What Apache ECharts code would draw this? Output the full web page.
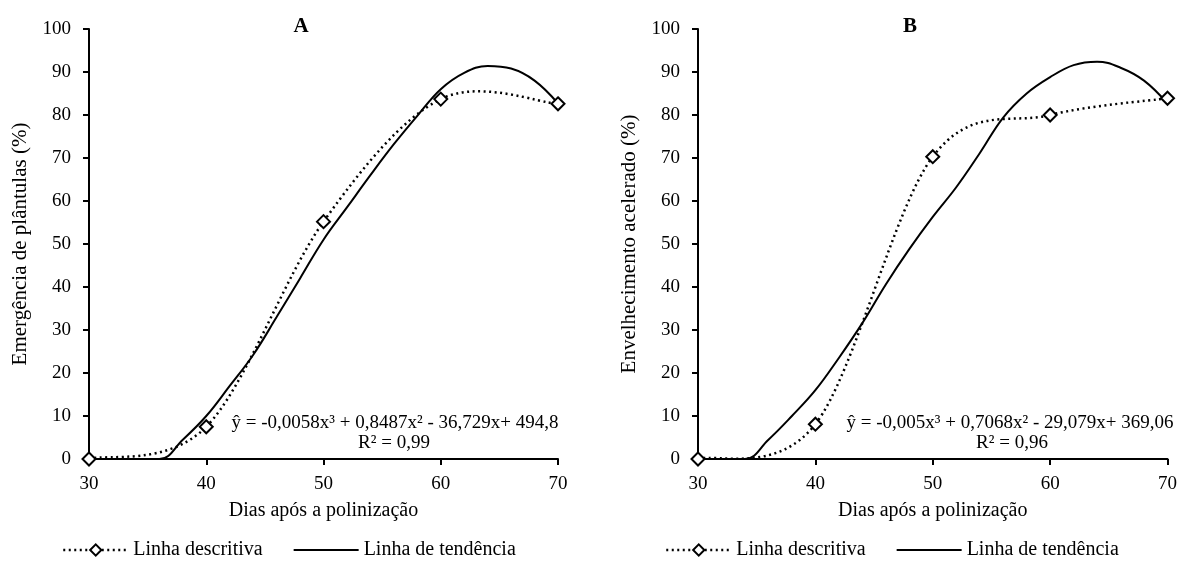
<!DOCTYPE html>
<html>
<head>
<meta charset="utf-8">
<script src="https://cdn.jsdelivr.net/npm/echarts@6/dist/echarts.min.js"></script>
<style>
html,body{margin:0;padding:0;background:#fff;}
#chart{width:1180px;height:585px;}
</style>
</head>
<body>
<div id="chart"></div>
<script>
// ---- data ----
const days = [30, 40, 50, 60, 70];
const emergenciaA = [0, 7.5, 55.2, 83.7, 82.6];
const envelhecimentoB = [0, 8.1, 70.3, 80.0, 83.9];

const trendDaysA = [30, 36, 38, 40, 42, 44, 46, 48, 50, 52, 54, 56, 58, 60, 62, 64, 66, 68, 70];
const trendA     = [0, 0, 4.5, 10, 17, 24.2, 33, 42, 51, 58.5, 66, 73.2, 79.8, 86, 89.8, 91.4, 90.8, 88, 82.7];

const trendDaysB = [30, 34, 36, 38, 40, 42, 44, 46, 48, 50, 52, 54, 56, 58, 60, 62, 64, 66, 68, 70];
const trendB     = [0, 0, 4.5, 10, 16, 23.5, 31.6, 40.6, 48.8, 56.3, 63.2, 71.1, 79.4, 85, 88.8, 91.6, 92.4, 91, 88, 82.7];

const xTicks = { min: 30, max: 70, interval: 10 };
const yTicks = { min: 0, max: 100, interval: 10 };

const labels = {
  titleA: 'A', titleB: 'B',
  yNameA: 'Emergência de plântulas (%)',
  yNameB: 'Envelhecimento acelerado (%)',
  xName: 'Dias após a polinização',
  desc: 'Linha descritiva',
  trend: 'Linha de tendência',
  eqA: 'ŷ = -0,0058x³ + 0,8487x² - 36,729x+ 494,8',
  r2A: 'R² = 0,99',
  eqB: 'ŷ = -0,005x³ + 0,7068x² - 29,079x+ 369,06',
  r2B: 'R² = 0,96'
};

// ---- chart ----
const FONT = "'Liberation Serif', 'Times New Roman', serif";
const zip = (xs, ys) => xs.map((x, i) => [x, ys[i]]);
const DOT = [2, 3.5];

function xAxisCfg(gi) {
  return {
    gridIndex: gi, type: 'value', min: xTicks.min, max: xTicks.max, interval: xTicks.interval,
    name: labels.xName, nameLocation: 'middle', nameGap: 42,
    nameTextStyle: { fontFamily: FONT, fontSize: 20, color: '#000' },
    axisLine: { onZero: false, lineStyle: { color: '#000', width: 2 } },
    axisTick: { show: true, length: 6, lineStyle: { color: '#000', width: 2 } },
    axisLabel: { fontFamily: FONT, fontSize: 19, color: '#000', margin: 16 },
    splitLine: { show: false }
  };
}
function yAxisCfg(gi, name) {
  return {
    gridIndex: gi, type: 'value', min: yTicks.min, max: yTicks.max, interval: yTicks.interval,
    name: name, nameLocation: 'middle', nameGap: 58, nameRotate: 90,
    nameTextStyle: { fontFamily: FONT, fontSize: 21, color: '#000' },
    axisLine: { onZero: false, lineStyle: { color: '#000', width: 2 } },
    axisTick: { show: true, length: 6, lineStyle: { color: '#000', width: 2 } },
    axisLabel: { fontFamily: FONT, fontSize: 19, color: '#000', margin: 18 },
    splitLine: { show: false }
  };
}
// Smooth dotted curve (Catmull-Rom style bezier through the data points, via the axis scales)
function descCurve(gi, ys) {
  const pts = zip(days, ys);
  return {
    name: 'curva', type: 'custom', xAxisIndex: gi, yAxisIndex: gi,
    data: pts, clip: false, silent: true, z: 2,
    renderItem: function (params, api) {
      const i = params.dataIndex;
      const n = pts.length;
      if (i >= n - 1) return null;
      const c = k => api.coord(pts[Math.max(0, Math.min(n - 1, k))]);
      const p0 = c(i - 1), p1 = c(i), p2 = c(i + 1), p3 = c(i + 2);
      return {
        type: 'bezierCurve',
        shape: {
          x1: p1[0], y1: p1[1],
          cpx1: p1[0] + (p2[0] - p0[0]) / 6, cpy1: p1[1] + (p2[1] - p0[1]) / 6,
          cpx2: p2[0] - (p3[0] - p1[0]) / 6, cpy2: p2[1] - (p3[1] - p1[1]) / 6,
          x2: p2[0], y2: p2[1]
        },
        style: { stroke: '#000', lineWidth: 2.5, lineDash: DOT, fill: null }
      };
    }
  };
}
function descSeries(gi, ys) {
  return {
    name: labels.desc, type: 'line', xAxisIndex: gi, yAxisIndex: gi,
    data: zip(days, ys), clip: false,
    symbol: 'diamond', symbolSize: 13,
    itemStyle: { color: '#fff', borderColor: '#000', borderWidth: 2 },
    lineStyle: { color: '#000', width: 2.5, type: DOT, opacity: 0 },
    z: 3
  };
}
function trendSeries(gi, xs, ys) {
  return {
    name: labels.trend, type: 'line', xAxisIndex: gi, yAxisIndex: gi,
    data: zip(xs, ys), smooth: 0.4, symbol: 'line', showSymbol: false, symbolSize: 1,
    itemStyle: { color: '#000' },
    lineStyle: { color: '#000', width: 2, type: 'solid' },
    z: 2
  };
}
function legendCfg(left) {
  return {
    left: left, top: 535, itemWidth: 65, itemHeight: 14, itemGap: 30,
    data: [
      { name: labels.desc, lineStyle: { color: '#000', width: 2.5, type: DOT, opacity: 1 } },
      { name: labels.trend }
    ],
    textStyle: { fontFamily: FONT, fontSize: 20, color: '#000' },
    selectedMode: false
  };
}
function textEl(x, y, t, bold) {
  return {
    type: 'text', x: x, y: y,
    style: { text: t, fontFamily: FONT, fontSize: bold ? 21 : 19, fontWeight: bold ? 'bold' : 'normal',
             fill: '#000', textAlign: 'center', textVerticalAlign: 'middle' }
  };
}

const chart = echarts.init(document.getElementById('chart'), null, { renderer: 'canvas' });
chart.setOption({
  backgroundColor: '#fff',
  animation: false,
  grid: [
    { left: 89, top: 29, width: 469, height: 430 },
    { left: 698, top: 29, width: 470, height: 430 }
  ],
  xAxis: [xAxisCfg(0), xAxisCfg(1)],
  yAxis: [yAxisCfg(0, labels.yNameA), yAxisCfg(1, labels.yNameB)],
  legend: [legendCfg(57), legendCfg(660)],
  series: [
    trendSeries(0, trendDaysA, trendA),
    descCurve(0, emergenciaA),
    descSeries(0, emergenciaA),
    trendSeries(1, trendDaysB, trendB),
    descCurve(1, envelhecimentoB),
    descSeries(1, envelhecimentoB)
  ],
  graphic: [
    textEl(301, 27, labels.titleA, true),
    textEl(910, 27, labels.titleB, true),
    textEl(395, 423, labels.eqA),
    textEl(394, 443, labels.r2A),
    textEl(1010, 423, labels.eqB),
    textEl(1012, 443, labels.r2B)
  ]
});
</script>
</body>
</html>
